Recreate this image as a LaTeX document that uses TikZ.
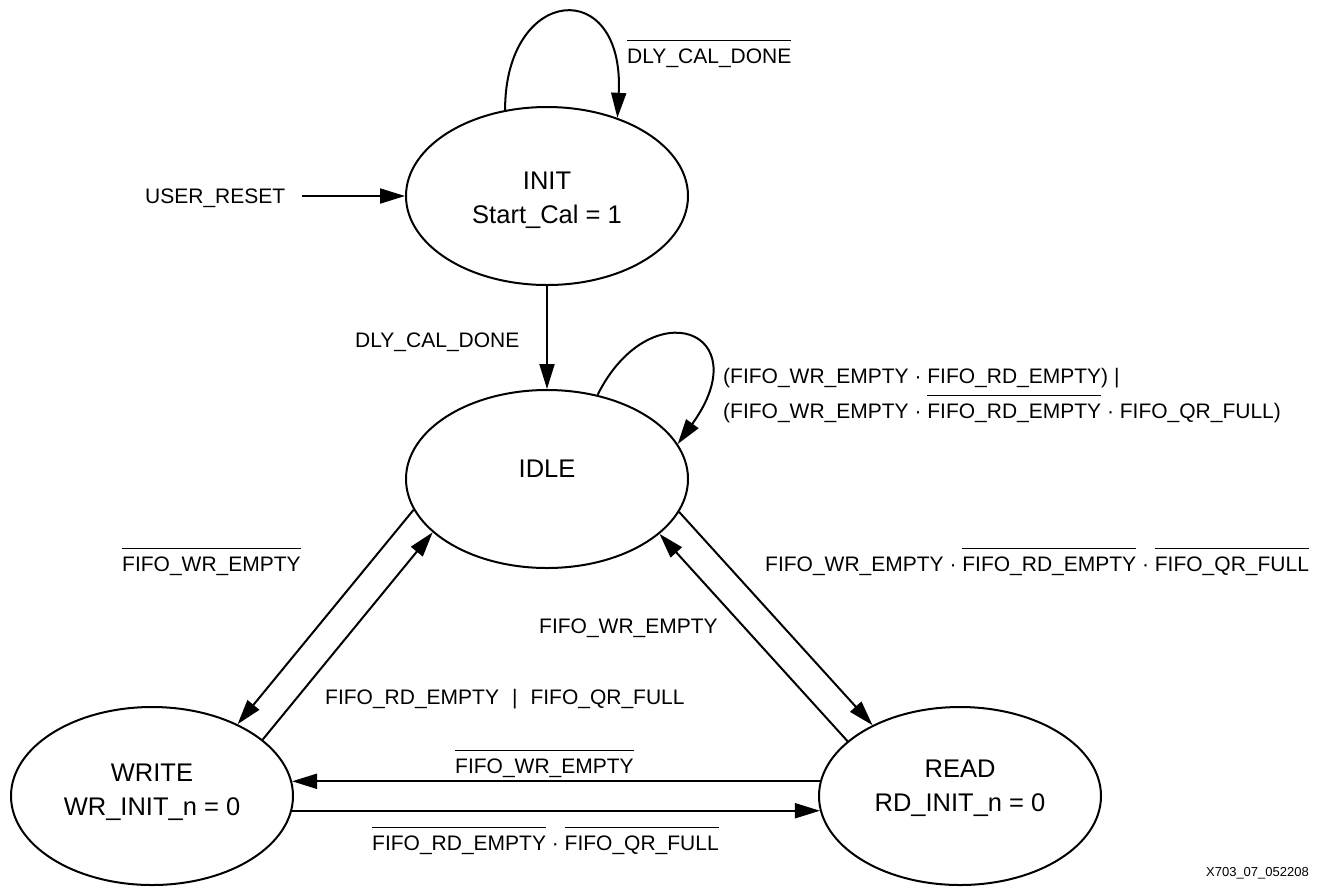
\documentclass[tikz,border=0pt]{standalone}
\usepackage{fontspec}
\setmainfont{Liberation Sans}
\usetikzlibrary{arrows.meta,shapes.geometric}
\newcommand\ovl[1]{\setbox0=\hbox{#1}\vbox{\hrule width\wd0 height 1pt\kern 7pt\box0}}
\tikzset{
  state/.style={draw, ellipse, line width=2pt, minimum width=282pt, minimum height=178pt, inner sep=0pt},
  statetext/.style={font=\fontsize{25.5}{34}\selectfont, align=center, inner sep=0pt},
  lbl/.style={font=\fontsize{21}{25}\selectfont, anchor=base west, inner sep=0pt},
  arr/.style={line width=2pt, -{Triangle[length=25pt,width=15pt]}},
}
\begin{document}
\begin{tikzpicture}[x=1pt,y=-1pt]
\useasboundingbox (0,0) rectangle (1324,887);
% states
\node[state] (init) at (547,196) {};
\node[state] (idle) at (547,479) {};
\node[state] (write) at (152,796) {};
\node[state] (read) at (960,796) {};
\node[statetext] (initt) at (547,200) {INIT\\Start\_Cal = 1};
\node[statetext] (idlet) at (547,469) {IDLE};
\node[statetext] (writet) at (152,792) {WRITE\\WR\_INIT\_n = 0};
\node[statetext] (readt) at (960,788) {READ\\RD\_INIT\_n = 0};
% labels
\node[lbl] (l1) at (627,63) {\ovl{DLY\_CAL\_DONE}};
\node[lbl] (l2) at (145,203) {USER\_RESET};
\node[lbl] (l3) at (355,347) {DLY\_CAL\_DONE};
\node[lbl] (l4) at (723,383) {(FIFO\_WR\_EMPTY · FIFO\_RD\_EMPTY) |};
\node[lbl] (l5) at (723,418) {(FIFO\_WR\_EMPTY · \ovl{FIFO\_RD\_EMPTY} · FIFO\_QR\_FULL)};
\node[lbl] (l6) at (122,571) {\ovl{FIFO\_WR\_EMPTY}};
\node[lbl] (l7) at (765,571) {FIFO\_WR\_EMPTY · \ovl{FIFO\_RD\_EMPTY} · \ovl{FIFO\_QR\_FULL}};
\node[lbl] (l8) at (539,633) {FIFO\_WR\_EMPTY};
\node[lbl] (l9) at (325,704) {FIFO\_RD\_EMPTY\hspace{13pt}|\hspace{13pt}FIFO\_QR\_FULL};
\node[lbl] (l10) at (455,773) {\ovl{FIFO\_WR\_EMPTY}};
\node[lbl] (l11) at (372,850) {\ovl{FIFO\_RD\_EMPTY} · \ovl{FIFO\_QR\_FULL}};
\node[font=\fontsize{13}{15}\selectfont, anchor=base east, inner sep=0pt] (fig) at (1309,876) {X703\_07\_052208};
% connectors
\coordinate (rst) at (302,196);
\draw[arr] (rst) -- (init.west);
\draw[arr] (init.116) .. controls (505,-15) and (625,-25) .. (init.48);
\draw[arr] (init.south) -- (idle.north);
\draw[arr] (idle.59) .. controls (650,290) and (760,330) .. (idle.15);
\draw[arr] (idle.193.7) -- (write.40);
\draw[arr] (write.27.6) -- (idle.205.6);
\draw[arr] (idle.346.8) -- (read.141);
\draw[arr] (read.154.8) -- (idle.334.2);
\draw[arr] (read.174) -- (write.6);
\draw[arr] (write.-6) -- (read.186);
\end{tikzpicture}
\end{document}
